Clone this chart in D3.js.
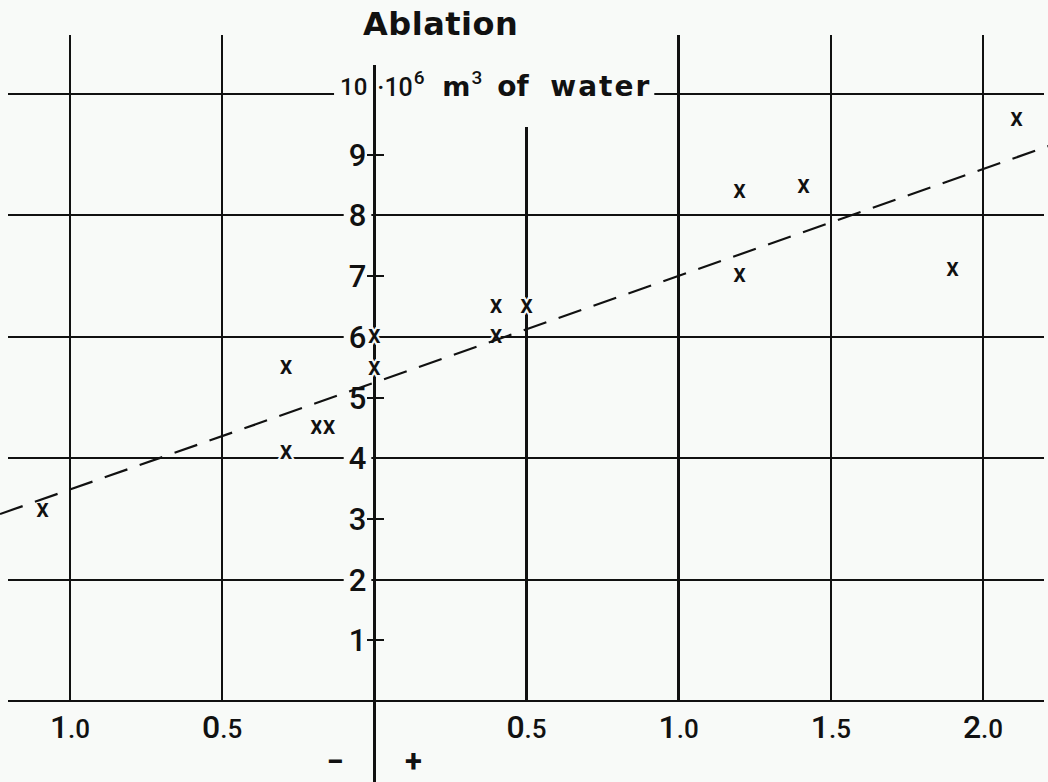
<!DOCTYPE html>
<html lang="en">
<head>
  <meta charset="UTF-8">
  <title>Ablation</title>
  <style>
    html, body {
      margin: 0;
      padding: 0;
      background-color: #f8faf8;
    }

    svg {
      display: block;
    }

    .grid line {
      stroke: #111;
      stroke-width: 2;
      shape-rendering: crispEdges;
    }

    text {
      font-family: Roboto, "DejaVu Sans", sans-serif;
      fill: #111;
    }

    .wide {
      font-family: "DejaVu Sans", sans-serif;
      font-weight: 700;
    }
  </style>
</head>
<body>
<div class="chart"></div>
</body>
<script src="https://d3js.org/d3.v7.min.js"></script>
<script>
  // 数据：横轴 (− / +)，纵轴 ablation 10^6 m^3 of water
  let pointX = [-1.09, -0.29, -0.29, -0.19, -0.149, 0.0, 0.0, 0.40, 0.40, 0.50, 1.20, 1.20, 1.41, 1.90, 2.11]
  let pointY = [3.15, 5.50, 4.10, 4.51, 4.51, 6.02, 5.49, 6.51, 6.02, 6.51, 8.40, 7.02, 8.49, 7.12, 9.59]
  // 回归线（虚线）两个端点
  let trendX = [-1.23, 2.22]
  let trendY = [3.08, 9.15]
  // 刻度
  let xTicks = [-1.0, -0.5, 0.5, 1.0, 1.5, 2.0]
  let yGrid = [0, 2, 4, 6, 8, 10]
  let yTicks = [1, 3, 5, 7, 9]
  let yLabels = [1, 2, 3, 4, 5, 6, 7, 8, 9]

  let width = 1048
  let height = 782
  let bg = '#f8faf8'

  let svg = d3.select('.chart').append('svg').attr('width', width).attr('height', height)
  svg.append('rect').attr('width', width).attr('height', height).attr('fill', bg)

  let xScale = d3.scaleLinear().domain([-1.0, 2.0]).range([70, 983])
  let yScale = d3.scaleLinear().domain([0, 10]).range([701, 94])
  let x0 = xScale(0)

  let gGrid = svg.append('g').attr('class', 'grid')
  let gMask = svg.append('g')
  let gAxis = svg.append('g').attr('class', 'grid')
  let gLabel = svg.append('g')
  let gMark = svg.append('g')

  drawGrid()
  drawLabels()
  drawAxis()
  drawTrend()
  drawPoints()

  function drawGrid () {
    // 横线
    gGrid.selectAll('.h').data(yGrid).enter().append('line')
      .attr('x1', 8).attr('x2', 1044)
      .attr('y1', d => yScale(d)).attr('y2', d => yScale(d))

    // 竖线（0.5 那条较短）
    gGrid.selectAll('.v').data(xTicks).enter().append('line')
      .attr('x1', d => xScale(d)).attr('x2', d => xScale(d))
      .attr('y1', d => d === 0.5 ? 127 : 35)
      .attr('y2', yScale(0))
      .style('stroke-width', 2.4)
  }

  // 给文字加底色，遮住后面的线
  function maskText (sel, pad) {
    sel.each(function () {
      let b = this.getBBox()
      gMask.append('rect')
        .attr('x', b.x - pad).attr('y', b.y + 2)
        .attr('width', b.width + pad * 2).attr('height', b.height - 2)
        .attr('fill', bg)
    })
  }

  function drawLabels () {
    svg.append('text').attr('class', 'wide')
      .attr('x', 363).attr('y', 35)
      .style('font-size', '32px')
      .style('letter-spacing', '0.5px')
      .text('Ablation')

    // y 轴数字
    let yl = gLabel.selectAll('.yl').data(yLabels).enter().append('text')
      .attr('x', x0 - 8).attr('y', d => yScale(d) + 11)
      .attr('text-anchor', 'end')
      .style('font-size', '31px').style('font-weight', 500)
      .text(d => d)
    maskText(yl, 5)

    let top = gLabel.append('text')
      .attr('x', x0 - 7).attr('y', yScale(10) + 1)
      .attr('text-anchor', 'end')
      .style('font-size', '24px').style('font-weight', 500)
      .text('10')
    maskText(top, 6)

    // 单位：·10^6 m^3 of water
    let unit = gLabel.append('text')
      .attr('x', x0 + 3).attr('y', yScale(10) + 2)
    unit.append('tspan').style('font-size', '25px').style('font-weight', 500).text('·10')
    unit.append('tspan').attr('dy', -12).attr('dx', 1).style('font-size', '19px').style('font-weight', 500).text('6')
    unit.append('tspan').attr('class', 'wide').attr('dy', 12).attr('x', x0 + 68).style('font-size', '27px').text('m')
    unit.append('tspan').attr('dy', -12).attr('dx', 1).style('font-size', '19px').style('font-weight', 500).text('3')
    unit.append('tspan').attr('class', 'wide').attr('dy', 12).attr('x', x0 + 123).style('font-size', '28px').text('of')
    unit.append('tspan').attr('class', 'wide').attr('x', x0 + 176).style('font-size', '28px').style('letter-spacing', '2px').text('water')
    maskText(unit, 3)

    // x 轴数字：左边是负值，只写绝对值
    let xl = gLabel.selectAll('.xl').data(xTicks).enter().append('text')
      .attr('x', d => xScale(d)).attr('y', 738)
      .attr('text-anchor', 'middle')
      .style('font-weight', 500)
    xl.append('tspan').style('font-size', '32px').text(d => d3.format('.1f')(Math.abs(d))[0])
    xl.append('tspan').style('font-size', '26px').text(d => d3.format('.1f')(Math.abs(d)).slice(1))

    gLabel.append('text')
      .attr('x', x0 - 39).attr('y', 772)
      .attr('text-anchor', 'middle')
      .style('font-size', '31px').style('font-weight', 700)
      .text('−')
    gLabel.append('text')
      .attr('x', x0 + 39).attr('y', 772)
      .attr('text-anchor', 'middle')
      .style('font-size', '31px').style('font-weight', 700)
      .text('+')
  }

  function drawAxis () {
    gAxis.append('line')
      .attr('x1', x0).attr('x2', x0)
      .attr('y1', 65).attr('y2', height)
      .style('stroke-width', 2.4)

    gAxis.selectAll('.tick').data(yTicks).enter().append('line')
      .attr('x1', x0 - 7).attr('x2', x0 + 10)
      .attr('y1', d => yScale(d)).attr('y2', d => yScale(d))
  }

  function drawTrend () {
    let line = d3.line()
      .x(d => xScale(d[0]))
      .y(d => yScale(d[1]))
    svg.append('path')
      .datum(d3.zip(trendX, trendY))
      .attr('d', line)
      .attr('fill', 'none')
      .attr('stroke', '#111')
      .attr('stroke-width', 2.2)
      .attr('stroke-dasharray', '24,13')
  }

  function drawPoints () {
    let data = d3.zip(pointX, pointY)
    gMark.selectAll('.pt').data(data).enter().append('text')
      .attr('x', d => xScale(d[0]))
      .attr('y', d => yScale(d[1]) + 7)
      .attr('text-anchor', 'middle')
      .style('font-size', '25px').style('font-weight', 500)
      .style('stroke', bg).style('stroke-width', 4)
      .style('paint-order', 'stroke')
      .text('x')
  }
</script>
</html>
